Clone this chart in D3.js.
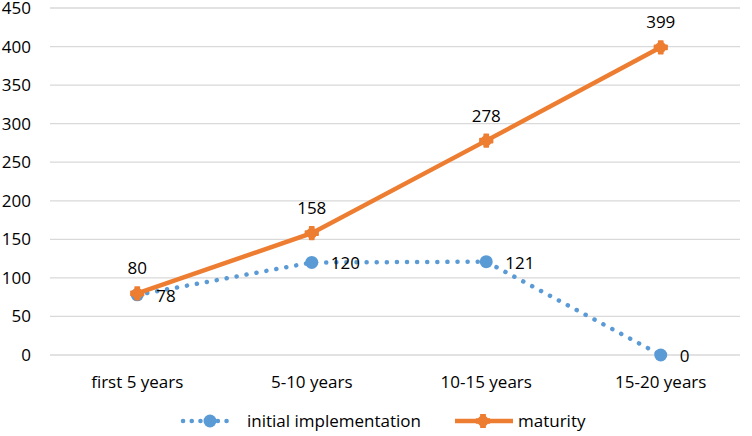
<!DOCTYPE html>
<html>
<head>
<meta charset="utf-8">
<script src="https://cdn.jsdelivr.net/npm/d3@7"></script>
<style>
body { margin: 0; background: #fff; }
text { font-family: "Open Sans", "Noto Sans", sans-serif; fill: #000; font-size: 17px; }
</style>
</head>
<body>
<svg id="chart" width="752" height="436"></svg>
<script>
var categories = ["first 5 years", "5-10 years", "10-15 years", "15-20 years"];
var initialVals = [78, 120, 121, 0];
var maturityVals = [80, 158, 278, 399];
var yTicks = [0, 50, 100, 150, 200, 250, 300, 350, 400, 450];

var svg = d3.select("#chart");
var plotLeft = 50, plotRight = 748, plotTop = 8, plotBottom = 355;

var x = d3.scaleBand().domain(categories).range([plotLeft, plotRight]);
var y = d3.scaleLinear().domain([0, 450]).range([plotBottom, plotTop]);
var cx = function(d, i) { return x(categories[i]) + x.bandwidth() / 2; };

// grid
svg.append("g").selectAll("line")
	.data(yTicks)
	.enter()
	.append("line")
	.attr("x1", plotLeft).attr("x2", plotRight - 8)
	.attr("y1", function(d) { return y(d); })
	.attr("y2", function(d) { return y(d); })
	.style("stroke", "#d9d9d9")
	.style("stroke-width", 1.3);

// y labels
svg.append("g").selectAll("text")
	.data(yTicks)
	.enter()
	.append("text")
	.attr("x", 31)
	.attr("y", function(d) { return y(d) + 6; })
	.attr("text-anchor", "end")
	.text(function(d) { return d; });

// x labels
svg.append("g").selectAll("text")
	.data(categories)
	.enter()
	.append("text")
	.attr("x", function(d) { return x(d) + x.bandwidth() / 2; })
	.attr("y", 388)
	.attr("text-anchor", "middle")
	.text(function(d) { return d; });

var line = d3.line().x(cx).y(function(d) { return y(d); });

// initial implementation
svg.append("path")
	.datum(initialVals)
	.attr("d", line)
	.style("fill", "none")
	.style("stroke", "#5b9bd5")
	.style("stroke-width", 4.5)
	.style("stroke-linecap", "round")
	.style("stroke-dasharray", "0.1 10");

svg.append("g").selectAll("circle")
	.data(initialVals)
	.enter()
	.append("circle")
	.attr("cx", cx)
	.attr("cy", function(d) { return y(d); })
	.attr("r", 6.5)
	.style("fill", "#5b9bd5");

// maturity
svg.append("path")
	.datum(maturityVals)
	.attr("d", line)
	.style("fill", "none")
	.style("stroke", "#ed7d31")
	.style("stroke-width", 4.5);

var star = d3.symbol().type(d3.symbolCross).size(90);
svg.append("g").selectAll("path")
	.data(maturityVals)
	.enter()
	.append("path")
	.attr("d", star)
	.attr("transform", function(d, i) { return "translate(" + cx(d, i) + "," + y(d) + ")"; })
	.style("fill", "#ed7d31")
	.style("stroke", "#ed7d31")
	.style("stroke-width", 1.5)
	.style("stroke-linejoin", "round");

svg.append("g").selectAll("circle")
	.data(maturityVals)
	.enter()
	.append("circle")
	.attr("cx", cx)
	.attr("cy", function(d) { return y(d); })
	.attr("r", 5.5)
	.style("fill", "#ed7d31");

// labels
svg.append("g").selectAll("text")
	.data(maturityVals)
	.enter()
	.append("text")
	.attr("x", cx)
	.attr("y", function(d) { return y(d) - 19; })
	.attr("text-anchor", "middle")
	.text(function(d) { return d; });

svg.append("g").selectAll("text")
	.data(initialVals)
	.enter()
	.append("text")
	.attr("x", function(d, i) { return cx(d, i) + 19; })
	.attr("y", function(d) { return y(d) + 7; })
	.text(function(d) { return d; });

// legend
var lg = svg.append("g");
lg.append("line")
	.attr("x1", 183).attr("x2", 235).attr("y1", 421).attr("y2", 421)
	.style("stroke", "#5b9bd5").style("stroke-width", 4.5)
	.style("stroke-linecap", "round").style("stroke-dasharray", "0.1 8.6");
lg.append("circle").attr("cx", 210).attr("cy", 421).attr("r", 6.5).style("fill", "#5b9bd5");
lg.append("text").attr("x", 247).attr("y", 427).text("initial implementation");

lg.append("line")
	.attr("x1", 455).attr("x2", 513).attr("y1", 421).attr("y2", 421)
	.style("stroke", "#ed7d31").style("stroke-width", 4.5);
lg.append("path").attr("d", star).attr("transform", "translate(483,421)")
	.style("fill", "#ed7d31").style("stroke", "#ed7d31").style("stroke-width", 1.5);
lg.append("circle").attr("cx", 483).attr("cy", 421).attr("r", 5.5).style("fill", "#ed7d31");
lg.append("text").attr("x", 518).attr("y", 427).text("maturity");
</script>
</body>
</html>
